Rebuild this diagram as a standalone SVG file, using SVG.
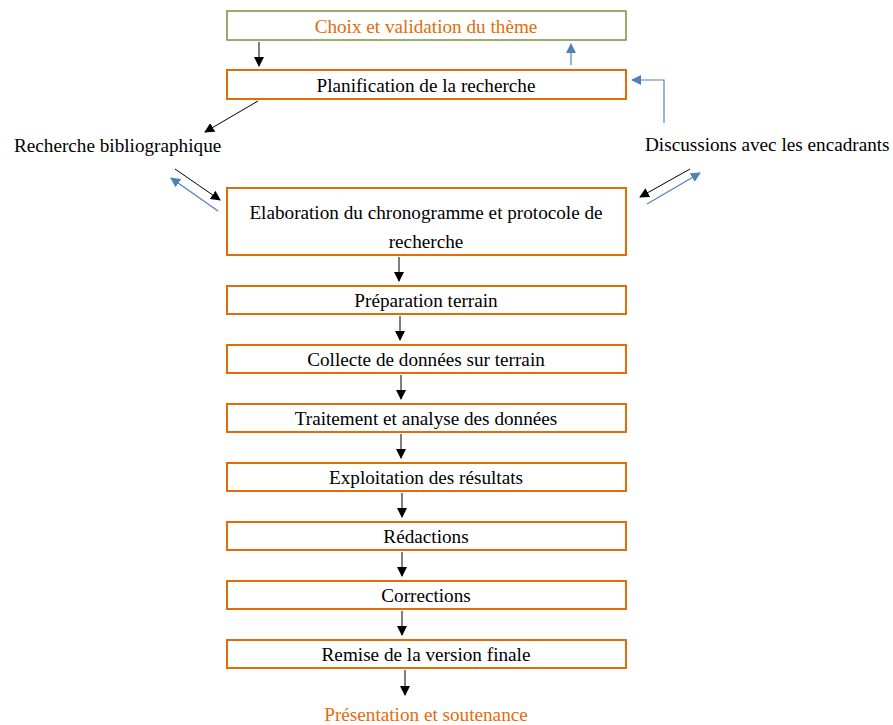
<svg xmlns="http://www.w3.org/2000/svg" width="893" height="725" viewBox="0 0 893 725">
<style>
text{font-family:"Liberation Serif","Times New Roman",serif;font-size:19.2px;fill:#000}
.t{text-anchor:middle}
.or{fill:#E36C09}
.box{fill:#fff;stroke:#E36C09;stroke-width:2}
.gbox{fill:#fff;stroke:#77933C;stroke-width:1.5}
.k{stroke:#000;stroke-width:1;fill:none}
.b{stroke:#4F81BD;stroke-width:1.2;fill:none}
</style>
<defs>
<marker id="ak" viewBox="0 0 10 10" refX="9" refY="5" markerWidth="10" markerHeight="10" markerUnits="userSpaceOnUse" orient="auto"><path d="M0,0L10,5L0,10z" fill="#000"/></marker>
<marker id="ab" viewBox="0 0 10 10" refX="9" refY="5" markerWidth="10" markerHeight="10" markerUnits="userSpaceOnUse" orient="auto"><path d="M0,0L10,5L0,10z" fill="#4F81BD"/></marker>
</defs>
<rect width="893" height="725" fill="#fff"/>
<g id="n1"><rect class="gbox" x="227" y="11" width="399" height="29"/><text class="t or" x="426" y="33">Choix et validation du thème</text></g>
<g id="n2"><rect class="box" x="227" y="70" width="399" height="29"/><text class="t" x="426" y="92">Planification de la recherche</text></g>
<g id="n3"><text x="14" y="152">Recherche bibliographique</text></g>
<g id="n4"><text x="645" y="151">Discussions avec les encadrants</text></g>
<g id="n5"><rect class="box" x="227" y="188" width="399" height="67"/><text class="t" x="426" y="219">Elaboration du chronogramme et protocole de</text><text class="t" x="426" y="248">recherche</text></g>
<g id="n6"><rect class="box" x="227" y="286" width="399" height="28"/><text class="t" x="426" y="307">Préparation terrain</text></g>
<g id="n7"><rect class="box" x="227" y="345" width="399" height="28"/><text class="t" x="426" y="366">Collecte de données sur terrain</text></g>
<g id="n8"><rect class="box" x="227" y="404" width="399" height="28"/><text class="t" x="426" y="425">Traitement et analyse des données</text></g>
<g id="n9"><rect class="box" x="227" y="463" width="399" height="28"/><text class="t" x="426" y="484">Exploitation des résultats</text></g>
<g id="n10"><rect class="box" x="227" y="522" width="399" height="28"/><text class="t" x="426" y="543">Rédactions</text></g>
<g id="n11"><rect class="box" x="227" y="581" width="399" height="28"/><text class="t" x="426" y="602">Corrections</text></g>
<g id="n12"><rect class="box" x="227" y="640" width="399" height="28"/><text class="t" x="426" y="661">Remise de la version finale</text></g>
<g id="n13"><text class="t or" x="426" y="721">Présentation et soutenance</text></g>
<g id="connectors">
<line class="k" x1="259" y1="42" x2="259" y2="66" marker-end="url(#ak)"/>
<line class="b" x1="571" y1="65" x2="571" y2="44" marker-end="url(#ab)"/>
<line class="k" x1="258" y1="101" x2="205" y2="132" marker-end="url(#ak)"/>
<line class="k" x1="175" y1="169" x2="220" y2="200" marker-end="url(#ak)"/>
<line class="b" x1="218" y1="211" x2="171" y2="178" marker-end="url(#ab)"/>
<polyline class="b" points="664,123 664,80 632,80" marker-end="url(#ab)"/>
<line class="k" x1="690" y1="169" x2="640" y2="197" marker-end="url(#ak)"/>
<line class="b" x1="647" y1="204" x2="700" y2="173" marker-end="url(#ab)"/>
<line class="k" x1="399" y1="257" x2="399" y2="281" marker-end="url(#ak)"/>
<line class="k" x1="400" y1="316" x2="400" y2="340" marker-end="url(#ak)"/>
<line class="k" x1="401" y1="375" x2="401" y2="399" marker-end="url(#ak)"/>
<line class="k" x1="401" y1="434" x2="401" y2="458" marker-end="url(#ak)"/>
<line class="k" x1="402" y1="493" x2="402" y2="517" marker-end="url(#ak)"/>
<line class="k" x1="402" y1="552" x2="402" y2="576" marker-end="url(#ak)"/>
<line class="k" x1="402" y1="611" x2="402" y2="635" marker-end="url(#ak)"/>
<line class="k" x1="405" y1="670" x2="405" y2="695" marker-end="url(#ak)"/>
</g>
</svg>
